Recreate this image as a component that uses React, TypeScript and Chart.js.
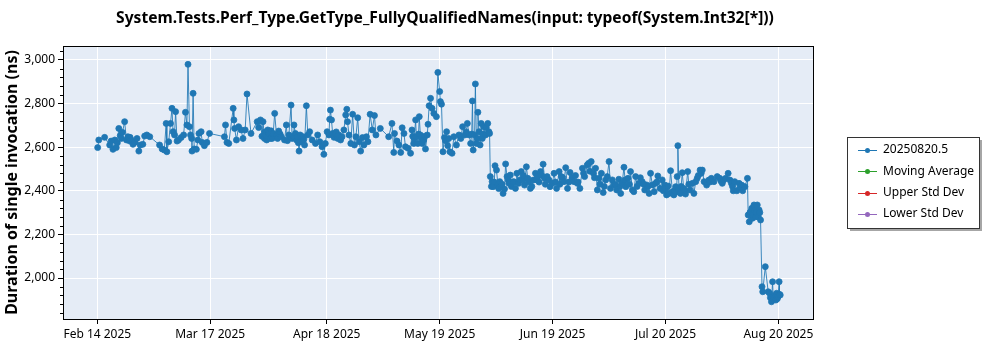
import React, { useEffect, useRef } from 'react';
import { Chart, registerables } from 'chart.js';
Chart.register(...registerables);

const chartTitle = 'System.Tests.Perf_Type.GetType_FullyQualifiedNames(input: typeof(System.Int32[*]))';
const yAxisTitle = 'Duration of single invocation (ns)';
const seriesLabels = ['20250820.5', 'Moving Average', 'Upper Std Dev', 'Lower Std Dev'];
const seriesColors = ['#1f77b4', '#2ca02c', '#d62728', '#9467bd'];
const xTickDays = [0, 31, 63, 94, 125, 156, 187];
const xTickLabels = ['Feb 14 2025', 'Mar 17 2025', 'Apr 18 2025', 'May 19 2025', 'Jun 19 2025', 'Jul 20 2025', 'Aug 20 2025'];
const yTickValues = [2000, 2200, 2400, 2600, 2800, 3000];

// days since Feb 14 2025
const dayOffsets = [
  0.1, 0.4, 2.0, 3.4, 3.8, 4.3, 4.8, 5.2, 5.9, 6.3, 6.9, 7.5, 8.0, 8.4, 8.9, 9.3, 9.8, 10.3, 10.9, 11.4,
  11.8, 12.5, 13.0, 13.6, 14.4, 17.1, 17.8, 18.4, 18.9, 19.1, 19.6, 20.1, 20.5, 20.8, 21.2, 21.5, 21.9, 22.3, 23.0, 23.7,
  24.2, 24.6, 24.9, 25.3, 25.6, 25.9, 26.0, 26.3, 26.6, 27.2, 27.6, 27.9, 28.5, 28.8, 29.4, 30.1, 30.8,
  34.9, 35.2, 35.6, 36.1, 37.3, 37.5, 37.7, 38.2, 38.8, 39.5, 40.0, 40.6, 41.1, 42.2, 43.9, 44.8, 45.5, 45.9, 46.2, 46.5,
  46.8, 47.1, 47.5, 47.9, 48.3, 48.7, 49.2, 49.8, 50.5, 51.4, 51.9, 52.6, 53.2, 53.5, 54.0, 54.4, 54.7, 55.0, 55.4, 55.7,
  55.9, 56.2, 56.5, 56.9, 57.4, 57.8, 58.3, 59.0, 59.9, 60.5, 61.1, 61.7, 62.2, 62.6, 63.1, 63.6, 63.8, 64.0,
  64.3, 64.6, 65.4, 65.8, 66.3, 66.8, 67.2, 67.7, 68.2, 68.5, 68.7, 69.1, 69.6, 70.1, 70.6, 71.0, 71.5, 71.9, 72.3, 72.8,
  73.2, 73.9, 74.3, 74.9, 75.5, 76.1, 76.5, 77.7, 80.0, 80.9, 81.4, 81.6, 82.3, 82.8, 83.3, 83.7, 84.2, 84.6, 85.3, 86.0,
  86.4, 86.9, 87.4, 87.6, 88.0, 88.4, 88.7, 89.2, 89.6, 90.1, 90.6, 90.8, 91.1, 91.5, 91.9, 92.4, 93.1, 93.5, 94.0, 94.2,
  94.5, 94.9, 95.3, 95.9, 96.2, 96.8, 97.4, 97.9,
  98.6, 99.3, 100.3, 100.9, 101.6, 102.1, 102.5, 103.0, 103.2, 103.6, 103.8, 104.1, 104.5, 104.8, 105.1, 105.4, 105.7, 106.1, 106.6, 107.2,
  107.5, 107.7, 107.9, 108.4, 108.7, 109.2, 109.6, 110.0, 110.5, 110.9, 111.4, 111.8, 112.1, 112.5, 113.0, 113.4, 114.2, 114.8, 115.2, 115.7,
  116.4, 116.9, 117.3, 117.8, 118.2, 118.9, 119.7, 120.3, 120.9, 121.7, 122.4, 122.8, 123.5, 124.3, 124.9, 125.4, 126.1, 126.8, 127.4, 128.1,
  128.6, 129.1, 129.8, 130.4, 130.9,
  131.8, 132.5, 133.2, 133.8, 134.5, 134.9, 135.6, 136.2, 136.8, 137.3, 137.7, 138.4, 138.9, 139.6, 140.0, 140.5, 140.9, 141.9, 142.6, 143.2,
  143.7, 144.1, 144.6, 145.1, 145.7, 146.4, 146.9, 147.3, 147.8, 148.7, 149.6, 150.3, 150.8, 151.5, 151.9, 152.4, 152.9, 153.3, 153.9, 154.5,
  155.1, 155.8, 156.3, 156.7, 157.0, 157.4, 157.9, 158.3, 158.8, 159.2, 159.4, 159.7, 160.1, 160.6, 161.0, 161.5, 162.1, 162.7,
  163.4, 163.8, 164.3, 164.7, 165.5, 166.1, 166.6, 167.3, 167.9, 168.6, 169.3, 170.2, 170.9, 171.6, 172.5, 173.2, 173.7, 174.1, 174.6, 175.0,
  175.6, 176.2, 176.9, 177.8, 178.5, 178.7, 179.0, 179.4, 179.9, 180.3, 180.8, 181.2, 181.7, 182.1, 182.5, 182.7, 183.4, 184.2, 184.6, 185.1,
  185.4, 185.8, 186.3, 186.5, 186.9, 187.2, 187.5,
];

// nanoseconds
const durations = [
  2598, 2633, 2645, 2610, 2628, 2590, 2633, 2598, 2686, 2653, 2668, 2717, 2633, 2648, 2628, 2633, 2613, 2622, 2640, 2582,
  2610, 2613, 2651, 2656, 2648, 2610, 2592, 2587, 2709, 2579, 2625, 2709, 2778, 2671, 2656, 2763, 2628, 2633, 2644, 2656,
  2760, 2702, 2980, 2694, 2656, 2640, 2582, 2847, 2592, 2590, 2633, 2663, 2671, 2622, 2607, 2622, 2663,
  2648, 2702, 2622, 2617, 2778, 2725, 2686, 2633, 2694, 2679, 2640, 2679, 2844, 2663, 2717, 2725, 2717, 2640, 2656, 2633,
  2679, 2663, 2640, 2648, 2663, 2755, 2656, 2674, 2648, 2633, 2702, 2656, 2793, 2640, 2702, 2663, 2633, 2648, 2582, 2656,
  2640, 2625, 2648, 2610, 2790, 2656, 2671, 2633, 2617, 2656, 2625, 2602, 2567, 2617, 2671, 2656, 2728, 2770,
  2725, 2663, 2663, 2648, 2656, 2633, 2648, 2679, 2748, 2774, 2717, 2656, 2617, 2751, 2610, 2648, 2735, 2625, 2582, 2644,
  2610, 2648, 2625, 2751, 2679, 2745, 2656, 2686, 2648, 2709, 2576, 2663, 2628, 2610, 2576, 2689, 2663, 2602, 2595, 2572,
  2679, 2617, 2725, 2648, 2617, 2740, 2656, 2617, 2633, 2592, 2656, 2705, 2790, 2824, 2778, 2755, 2740, 2943, 2855, 2809,
  2797, 2579, 2644, 2671, 2607, 2579, 2572, 2648,
  2610, 2656, 2694, 2656, 2709, 2656, 2617, 2812, 2587, 2656, 2890, 2617, 2760, 2671, 2610, 2709, 2640, 2694, 2656, 2709,
  2671, 2663, 2465, 2442, 2419, 2515, 2495, 2426, 2442, 2419, 2388, 2408, 2523, 2465, 2434, 2472, 2442, 2411, 2480, 2434,
  2488, 2449, 2426, 2510, 2457, 2411, 2449, 2480, 2465, 2488, 2522, 2457, 2465, 2419, 2434, 2480, 2411, 2488, 2465, 2442,
  2506, 2411, 2484, 2460, 2442,
  2434, 2411, 2503, 2465, 2518, 2526, 2534, 2480, 2503, 2404, 2457, 2480, 2392, 2450, 2465, 2534, 2411, 2427, 2404, 2453,
  2388, 2434, 2508, 2419, 2457, 2488, 2404, 2396, 2465, 2434, 2442, 2404, 2427, 2388, 2480, 2427, 2396, 2434, 2468, 2411,
  2450, 2427, 2381, 2422, 2388, 2492, 2396, 2381, 2419, 2465, 2607, 2404, 2388, 2483, 2411, 2385, 2488, 2404,
  2434, 2388, 2442, 2457, 2495, 2495, 2442, 2426, 2449, 2457, 2442, 2465, 2457, 2434, 2457, 2480, 2449, 2434, 2400, 2442,
  2400, 2434, 2426, 2419, 2457, 2289, 2258, 2304, 2274, 2335, 2281, 2335, 2312, 2266, 1960, 1937, 2052, 1937, 1930, 1891,
  1983, 1914, 1899, 1930, 1914, 1983, 1922,
];

// additional runs read from the dense clusters
const clusterDays = [
  5.5, 6.6, 9.0, 44.3, 45.2, 46.0, 46.9, 47.7, 48.0, 49.5, 50.2, 52.2, 53.8, 55.2, 56.0, 56.7, 65.0, 65.6, 66.0,
  86.6, 87.0, 88.2, 89.0, 89.9, 95.6, 96.5, 99.8, 101.3, 102.8, 104.3, 105.9, 106.8,
  108.2, 109.0, 110.2, 111.1, 112.8, 113.7, 114.5, 116.0, 117.0, 118.5, 119.3, 120.6, 121.3, 122.0, 123.0, 124.0, 125.8, 127.0,
  127.8, 129.5, 131.3, 132.0, 133.5, 135.2, 136.5, 138.0, 139.2, 141.4, 142.2, 143.5, 144.9, 146.1, 148.2, 149.1, 150.0, 151.2,
  153.6, 155.4, 156.0, 158.5, 159.0, 160.3, 161.3, 162.4, 165.0, 165.8, 168.2, 171.2, 172.0, 174.4, 176.5, 177.2,
  179.2, 179.7, 180.0, 180.5, 181.0, 181.5, 181.9, 184.8, 185.6, 186.1, 186.7, 187.3,
];
const clusterDurations = [
  2620, 2640, 2645, 2690, 2650, 2670, 2650, 2675, 2640, 2640, 2660, 2630, 2650, 2620, 2630, 2635, 2645, 2670, 2640,
  2650, 2640, 2660, 2640, 2650, 2630, 2640, 2640, 2670, 2660, 2640, 2660, 2690,
  2420, 2440, 2410, 2430, 2450, 2420, 2440, 2450, 2470, 2440, 2420, 2450, 2440, 2470, 2430, 2450, 2440, 2430,
  2460, 2440, 2470, 2440, 2480, 2490, 2460, 2430, 2420, 2450, 2430, 2420, 2450, 2430, 2420, 2460, 2430, 2420,
  2440, 2400, 2410, 2400, 2395, 2420, 2400, 2430, 2470, 2480, 2440, 2445, 2450, 2420, 2415, 2400,
  2300, 2320, 2290, 2310, 2300, 2280, 2300, 1910, 1905, 1920, 1905, 1925,
];

const FONT = "'Noto Sans', 'Open Sans', sans-serif";

const decorPlugin = {
  id: 'decor',
  beforeDraw(chart: any) {
    const { ctx, chartArea: a } = chart;
    ctx.save();
    ctx.fillStyle = '#ffffff';
    ctx.fillRect(0, 0, chart.width, chart.height);
    ctx.fillStyle = '#e5ecf6';
    ctx.fillRect(a.left, a.top, a.right - a.left, a.bottom - a.top);
    ctx.restore();
  },
  afterDraw(chart: any) {
    const { ctx, chartArea: a } = chart;
    ctx.save();
    ctx.strokeStyle = '#000';
    ctx.lineWidth = 1;
    ctx.strokeRect(Math.round(a.left) + 0.5, Math.round(a.top) + 0.5, Math.round(a.right - a.left), Math.round(a.bottom - a.top));
    const ys = chart.scales.y;
    for (let v = Math.ceil(ys.min / 40) * 40; v <= ys.max; v += 40) {
      if (v % 200 === 0) continue;
      const py = Math.round(ys.getPixelForValue(v)) + 0.5;
      ctx.beginPath();
      ctx.moveTo(a.left - 3, py);
      ctx.lineTo(a.left, py);
      ctx.stroke();
    }
    ctx.fillStyle = '#000';
    ctx.font = `bold 15.6px ${FONT}`;
    ctx.textAlign = 'center';
    ctx.textBaseline = 'middle';
    ctx.fillText(chartTitle, 445, 19);
    const lx = 847, ly = 137, lw = 132, lh = 91;
    ctx.fillStyle = 'rgba(0,0,0,0.35)';
    ctx.fillRect(lx + 3, ly + 3, lw, lh);
    ctx.fillStyle = '#fff';
    ctx.fillRect(lx, ly, lw, lh);
    ctx.strokeStyle = '#333';
    ctx.strokeRect(lx + 0.5, ly + 0.5, lw, lh);
    ctx.font = `12px ${FONT}`;
    ctx.textAlign = 'left';
    chart.data.datasets.forEach((ds: any, i: number) => {
      const cy = 150 + i * 21.3;
      const c = seriesColors[i];
      ctx.strokeStyle = c;
      ctx.lineWidth = 1;
      ctx.beginPath();
      ctx.moveTo(858, Math.round(cy) + 0.5);
      ctx.lineTo(877, Math.round(cy) + 0.5);
      ctx.stroke();
      ctx.fillStyle = c;
      ctx.beginPath();
      ctx.arc(867.5, Math.round(cy) + 0.5, 2.5, 0, Math.PI * 2);
      ctx.fill();
      ctx.fillStyle = '#000';
      ctx.fillText(ds.label, 883, cy);
    });
    ctx.restore();
  },
};

export default function App() {
  const ref = useRef<HTMLCanvasElement | null>(null);
  useEffect(() => {
    if (!ref.current) return;
    const mainData = dayOffsets
      .map((d, i) => ({ x: d, y: durations[i] }))
      .concat(clusterDays.map((d, i) => ({ x: d, y: clusterDurations[i] })))
      .sort((p, q) => p.x - q.x);
    const chart = new Chart(ref.current, {
      type: 'line',
      data: {
        datasets: seriesLabels.map((label, i) => ({
          label,
          data: i === 0 ? mainData : [],
          borderColor: i === 0 ? 'rgba(31,119,180,0.85)' : seriesColors[i],
          backgroundColor: seriesColors[i],
          borderWidth: 1,
          pointRadius: 3,
          pointBorderWidth: 0.8,
          pointBorderColor: seriesColors[i],
          pointBackgroundColor: seriesColors[i],
          tension: 0,
          fill: false,
        })),
      },
      options: {
        animation: false,
        responsive: false,
        events: [],
        layout: { padding: { top: 46, right: 187, left: 0, bottom: 0 } },
        plugins: { legend: { display: false }, title: { display: false }, tooltip: { enabled: false } },
        scales: {
          x: {
            type: 'linear',
            min: -9.42,
            max: 196.5,
            afterBuildTicks: (s: any) => { s.ticks = xTickDays.map((v) => ({ value: v })); },
            afterFit: (s: any) => { s.height = 31; },
            ticks: {
              autoSkip: false,
              maxRotation: 0,
              color: '#000',
              padding: 3,
              font: { family: FONT, size: 12 },
              callback: (v: any) => {
                const k = xTickDays.indexOf(Number(v));
                return k >= 0 ? xTickLabels[k] : '';
              },
            },
            grid: { color: '#ffffff', lineWidth: 1, tickColor: '#000', tickLength: 5 },
            border: { display: false },
          },
          y: {
            type: 'linear',
            min: 1812,
            max: 3064,
            afterBuildTicks: (s: any) => { s.ticks = yTickValues.map((v) => ({ value: v })); },
            afterFit: (s: any) => { s.width = 63; },
            ticks: {
              color: '#000',
              padding: 3,
              font: { family: FONT, size: 12 },
              callback: (v: any) => Number(v).toLocaleString('en-US'),
            },
            grid: { color: '#ffffff', lineWidth: 1, tickColor: '#000', tickLength: 5 },
            border: { display: false },
            title: {
              display: true,
              text: yAxisTitle,
              color: '#000',
              font: { family: FONT, size: 16, weight: 'bold' },
              padding: { top: 3, bottom: 0 },
            },
          },
        },
      },
      plugins: [decorPlugin],
    } as any);
    return () => chart.destroy();
  }, []);
  return (
    <div style={{ position: 'absolute', left: 0, top: 0, width: 1000, height: 350 }}>
      <canvas ref={ref} width={1000} height={350} style={{ display: 'block' }} />
    </div>
  );
}
